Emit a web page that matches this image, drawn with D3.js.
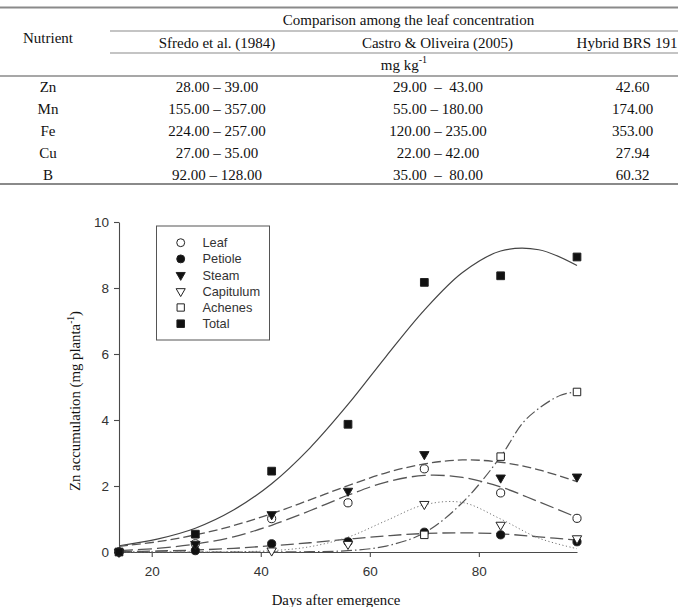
<!DOCTYPE html>
<html><head><meta charset="utf-8">
<script src="https://cdn.jsdelivr.net/npm/d3@7"></script>
<style>
html,body{margin:0;padding:0;background:#fff;}
svg{display:block;}
</style></head><body>
<svg id="c" width="678" height="607"></svg>
<script>
// ---------- table data ----------
const nutrients = ["Zn", "Mn", "Fe", "Cu", "B"];
const sfredo = ["28.00 – 39.00", "155.00 – 357.00", "224.00 – 257.00", "27.00 – 35.00", "92.00 – 128.00"];
const castro = ["29.00  –  43.00", "55.00 – 180.00", "120.00 – 235.00", "22.00 – 42.00", "35.00  –  80.00"];
const hybrid = ["42.60", "174.00", "353.00", "27.94", "60.32"];
const sourceHeaders = ["Sfredo et al. (1984)", "Castro & Oliveira (2005)", "Hybrid BRS 191"];

// ---------- chart data ----------
const days = [14, 28, 42, 56, 70, 84, 98];
const leaf = [0, 0.25, 1.01, 1.49, 2.52, 1.79, 1.02];
const petiole = [0, 0.04, 0.25, 0.31, 0.60, 0.52, 0.31];
const steam = [0, 0.24, 1.14, 1.85, 2.96, 2.25, 2.28];
const capitulum = [null, null, 0.04, 0.24, 1.45, 0.82, 0.41];
const achenes = [null, null, null, null, 0.52, 2.89, 4.85];
const total = [0, 0.54, 2.45, 3.87, 8.17, 8.37, 8.94];

const fitDays = [14, 21, 28, 35, 42, 49, 56, 63, 70, 77, 84, 91, 98];
const leafFit = [0.04, 0.11, 0.24, 0.46, 0.81, 1.25, 1.72, 2.12, 2.32, 2.26, 1.97, 1.52, 1.05];
const petioleFit = [0.01, 0.03, 0.06, 0.11, 0.19, 0.28, 0.39, 0.49, 0.56, 0.58, 0.55, 0.46, 0.36];
const steamFit = [0.17, 0.31, 0.52, 0.80, 1.16, 1.58, 2.01, 2.40, 2.67, 2.79, 2.72, 2.49, 2.13];
const capitulumFit = [0, 0, 0, 0.01, 0.04, 0.16, 0.45, 0.95, 1.43, 1.50, 1.00, 0.42, 0.10];
const achenesFitDays = [14, 28, 42, 49, 56, 63, 70, 77, 84, 88, 91, 95, 98];
const achenesFit = [0, 0, 0, 0.01, 0.04, 0.18, 0.58, 1.5, 2.89, 3.9, 4.35, 4.75, 4.86];
const totalFit = [0.19, 0.39, 0.72, 1.27, 2.07, 3.15, 4.47, 5.93, 7.33, 8.47, 9.12, 9.16, 8.68];

const yTicks = [0, 2, 4, 6, 8, 10];
const xTicks = [20, 40, 60, 80];

const svg = d3.select("#c");
const SERIF = "'Liberation Serif','Times New Roman',serif";
const SANS = "'Liberation Sans',Arial,sans-serif";

// ---------- table ----------
const tbl = svg.append("g").attr("font-family", SERIF).attr("font-size", 15).attr("fill", "#111");
const rule = (x1, x2, yy, w) => tbl.append("line").attr("x1", x1).attr("x2", x2).attr("y1", yy).attr("y2", yy)
  .attr("stroke", "#8a8a8a").attr("stroke-width", w);
rule(0, 678, 7.5, 2);
rule(110, 678, 31, 1.2);
rule(110, 678, 53, 1.2);
rule(0, 678, 76, 1.6);
rule(0, 678, 184, 2);

const txt = (x, yy, s) => tbl.append("text").attr("x", x).attr("y", yy).attr("text-anchor", "middle")
  .attr("dominant-baseline", "central").style("white-space", "pre").text(s);
txt(48, 38, "Nutrient");
txt(408.5, 20, "Comparison among the leaf concentration");
const headX = [217, 437.5, 627];
sourceHeaders.forEach((h, i) => txt(headX[i], 42.5, h));
const mg = txt(404, 65, "mg kg");
mg.append("tspan").attr("font-size", 10).attr("dy", -6).text("-1");

const colX = [48, 217, 438, 632.5];
const rowY = d3.scaleLinear().domain([0, 4]).range([87.3, 175]);
nutrients.forEach((n, i) => {
  txt(colX[0], rowY(i), n);
  txt(colX[1], rowY(i), sfredo[i]);
  txt(colX[2], rowY(i), castro[i]);
  txt(colX[3], rowY(i), hybrid[i]);
});

// ---------- chart ----------
const x = d3.scaleLinear().domain([14, 98]).range([119, 577]);
const y = d3.scaleLinear().domain([0, 10]).range([552, 222]);
const AX = "#4a4a4a";

const xAxis = svg.append("g").attr("transform", "translate(0,552)")
  .call(d3.axisBottom(x).tickValues(xTicks).tickSize(5).tickSizeOuter(0).tickPadding(9));
const yAxis = svg.append("g").attr("transform", "translate(119,0)")
  .call(d3.axisLeft(y).tickValues(yTicks).tickSize(5).tickSizeOuter(0).tickPadding(5).tickFormat(d3.format("d")));
[xAxis, yAxis].forEach(g => {
  g.selectAll("path,line").attr("stroke", AX).attr("stroke-width", 1.1);
  g.selectAll("text").attr("font-family", SANS).attr("font-size", 13.5).attr("fill", "#333");
});

// axis titles
svg.append("text").attr("x", 336).attr("y", 605).attr("text-anchor", "middle")
  .attr("font-family", SERIF).attr("font-size", 14.8).attr("fill", "#111").text("Days after emergence");
const yl = svg.append("text").attr("transform", "translate(80,401) rotate(-90)").attr("text-anchor", "middle")
  .attr("font-family", SERIF).attr("font-size", 14.8).attr("fill", "#111").text("Zn accumulation (mg planta");
yl.append("tspan").attr("font-size", 9.5).attr("dy", -6).text("-1");
yl.append("tspan").attr("dy", 6).text(")");

// fitted curves
const line = d3.line().x(d => x(d[0])).y(d => y(d[1])).curve(d3.curveCatmullRom.alpha(0.5));
const fits = [
  {days: fitDays, v: totalFit, dash: null, w: 1.2, c: "#444"},
  {days: fitDays, v: leafFit, dash: "14,5", w: 1.3, c: "#555"},
  {days: fitDays, v: steamFit, dash: "9,4", w: 1.3, c: "#555"},
  {days: fitDays, v: petioleFit, dash: "13,5", w: 1.3, c: "#555"},
  {days: fitDays, v: capitulumFit, dash: "1.2,2.4", w: 1, c: "#777"},
  {days: achenesFitDays, v: achenesFit, dash: "11,3,1.5,3", w: 1.2, c: "#555"}
];
fits.forEach(f => {
  svg.append("path").datum(f.days.map((d, i) => [d, f.v[i]]))
    .attr("d", line).attr("fill", "none").attr("stroke", f.c).attr("stroke-width", f.w)
    .attr("stroke-dasharray", f.dash);
});

// markers
const series = [
  {name: "Leaf", v: leaf, type: d3.symbolCircle, size: 52, fill: "#fff", rot: 0},
  {name: "Petiole", v: petiole, type: d3.symbolCircle, size: 52, fill: "#111", rot: 0},
  {name: "Steam", v: steam, type: d3.symbolTriangle, size: 38, fill: "#111", rot: 180},
  {name: "Capitulum", v: capitulum, type: d3.symbolTriangle, size: 38, fill: "#fff", rot: 180},
  {name: "Achenes", v: achenes, type: d3.symbolSquare, size: 56, fill: "#fff", rot: 0},
  {name: "Total", v: total, type: d3.symbolSquare, size: 60, fill: "#111", rot: 0}
];
series.forEach(s => {
  const pts = days.map((d, i) => [d, s.v[i]]).filter(p => p[1] !== null);
  svg.append("g").selectAll("path").data(pts).enter().append("path")
    .attr("d", d3.symbol().type(s.type).size(s.size))
    .attr("transform", p => `translate(${x(p[0])},${y(p[1])}) rotate(${s.rot})`)
    .attr("fill", s.fill).attr("stroke", "#222").attr("stroke-width", 1);
});

// legend
const lg = svg.append("g");
lg.append("rect").attr("x", 156.5).attr("y", 226).attr("width", 113).attr("height", 114)
  .attr("fill", "#fff").attr("stroke", "#555").attr("stroke-width", 1);
const ly = d3.scaleLinear().domain([0, 5]).range([242.7, 323.7]);
series.forEach((s, i) => {
  lg.append("path").attr("d", d3.symbol().type(s.type).size(s.size * 0.95))
    .attr("transform", `translate(180.7,${ly(i)}) rotate(${s.rot})`)
    .attr("fill", s.fill).attr("stroke", "#222").attr("stroke-width", 1);
  lg.append("text").attr("x", 202.5).attr("y", ly(i)).attr("dominant-baseline", "central")
    .attr("font-family", SANS).attr("font-size", 12.8).attr("fill", "#333").text(s.name);
});
</script>
</body></html>
